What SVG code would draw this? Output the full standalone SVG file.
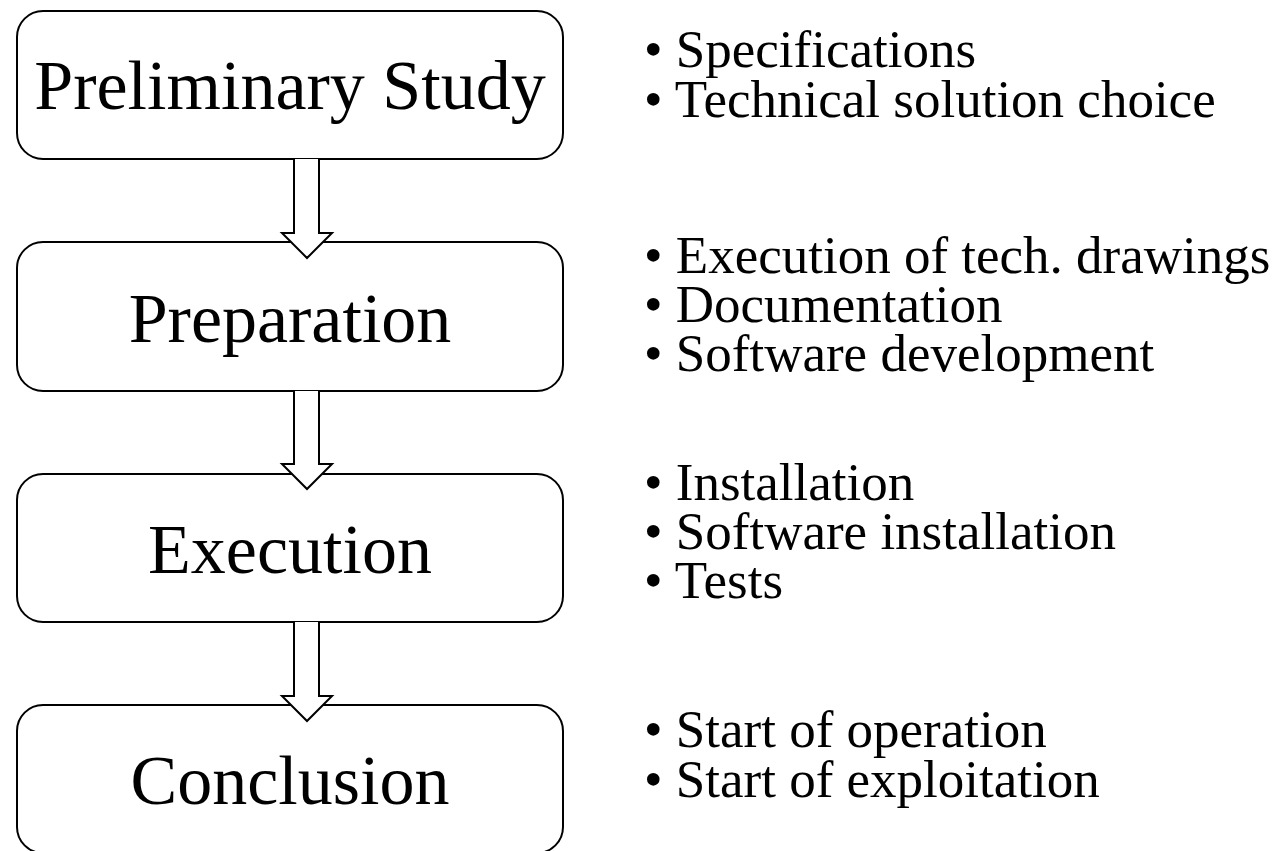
<svg xmlns="http://www.w3.org/2000/svg" width="1272" height="851" viewBox="0 0 1272 851">
<style>
.box{fill:#fff;stroke:#000;stroke-width:2}
.arr{fill:#fff;stroke:#000;stroke-width:2;stroke-linejoin:miter}
.title{font-family:"Liberation Serif","Times New Roman",serif;font-size:70px;text-anchor:middle;fill:#000}
.item{font-family:"Liberation Serif","Times New Roman",serif;font-size:53px;fill:#000}
</style>
<rect width="1272" height="851" fill="#fff"/>
<g id="node-preliminary">
<rect class="box" x="17" y="11" width="546" height="148" rx="26"/>
<text class="title" x="290" y="109">Preliminary Study</text>
</g>
<g id="node-preparation">
<rect class="box" x="17" y="242" width="546" height="149" rx="26"/>
<text class="title" x="290" y="342">Preparation</text>
</g>
<g id="node-execution">
<rect class="box" x="17" y="474" width="546" height="148" rx="26"/>
<text class="title" x="290" y="573">Execution</text>
</g>
<g id="node-conclusion">
<rect class="box" x="17" y="705" width="546" height="148" rx="26"/>
<text class="title" x="290" y="804">Conclusion</text>
</g>
<g id="connectors">
<path class="arr" d="M294,159 V233 H282 L307,258 L332,233 H319 V159"/>
<path class="arr" d="M294,391 V464 H282 L307,489 L332,464 H319 V391"/>
<path class="arr" d="M294,622 V696 H282 L307,721 L332,696 H319 V622"/>
</g>
<g id="notes-preliminary">
<text class="item" x="644" y="67">• Specifications</text>
<text class="item" x="644" y="117">• Technical solution choice</text>
</g>
<g id="notes-preparation">
<text class="item" x="644" y="273">• Execution of tech. drawings</text>
<text class="item" x="644" y="322">• Documentation</text>
<text class="item" x="644" y="371">• Software development</text>
</g>
<g id="notes-execution">
<text class="item" x="644" y="500">• Installation</text>
<text class="item" x="644" y="549">• Software installation</text>
<text class="item" x="644" y="598">• Tests</text>
</g>
<g id="notes-conclusion">
<text class="item" x="644" y="747">• Start of operation</text>
<text class="item" x="644" y="797">• Start of exploitation</text>
</g>
</svg>
